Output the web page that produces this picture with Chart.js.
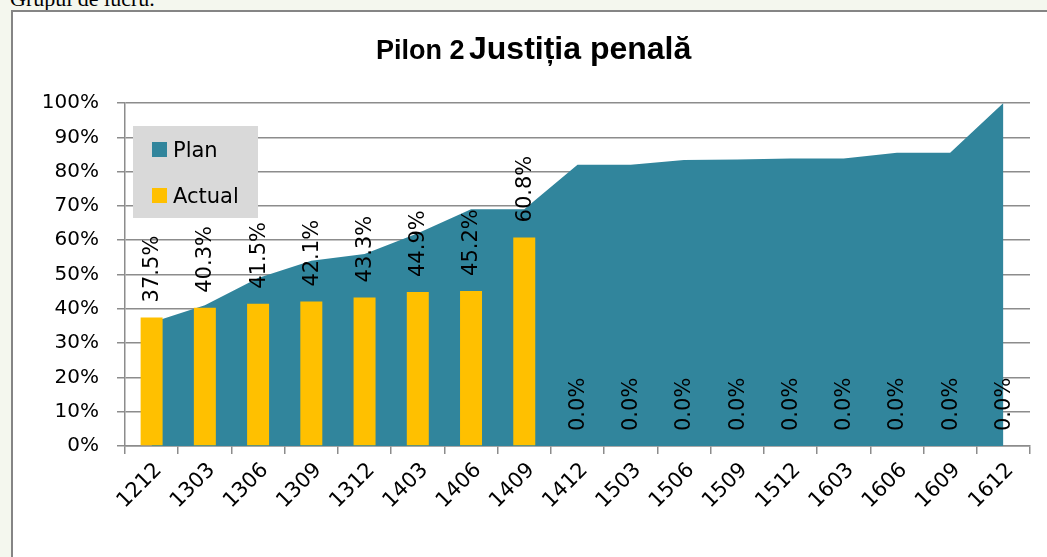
<!DOCTYPE html>
<html>
<head>
<meta charset="utf-8">
<script src="https://cdn.jsdelivr.net/npm/chart.js@4.4.0/dist/chart.umd.min.js"></script>
<style>
html, body { margin: 0; padding: 0; background: #f4f7ee; overflow: hidden; }
#top { position: absolute; left: 10px; top: -12px; font: 22px "Liberation Serif"; line-height: 22px; color: #000; white-space: nowrap; }
#frame { position: absolute; left: 11px; top: 10px; width: 1100px; height: 600px; border: 2px solid #858585; background: #fff; }
#wrap { position: absolute; left: 0; top: 0; width: 1047px; height: 557px; }
</style>
</head>
<body>
<div id="top">Grupul de lucru.</div>
<div id="frame"></div>
<div id="wrap"><canvas id="chart" width="1047" height="557"></canvas></div>
<script>
const periods = ['1212', '1303', '1306', '1309', '1312', '1403', '1406', '1409', '1412',
  '1503', '1506', '1509', '1512', '1603', '1606', '1609', '1612'];
const planValues = [36, 41, 49, 54, 56, 62, 69, 69, 82, 82, 83.4, 83.5, 83.8, 83.8, 85.5, 85.5, 100];
const actualValues = [37.5, 40.3, 41.5, 42.1, 43.3, 44.9, 45.2, 60.8, 0, 0, 0, 0, 0, 0, 0, 0, 0];
const yTicks = [0, 10, 20, 30, 40, 50, 60, 70, 80, 90, 100];

const gridGray = '#8c8c8c';

// rotated value labels above the bars
const barLabels = {
  id: 'barLabels',
  afterDatasetsDraw(chart) {
    const ctx = chart.ctx;
    const meta = chart.getDatasetMeta(1);
    ctx.save();
    ctx.font = '21px "DejaVu Sans"';
    ctx.fillStyle = '#000';
    ctx.textAlign = 'left';
    ctx.textBaseline = 'middle';
    meta.data.forEach((bar, i) => {
      ctx.save();
      ctx.translate(bar.x + 1, bar.y - 15);
      ctx.rotate(-Math.PI / 2);
      ctx.fillText(actualValues[i].toFixed(1) + '%', 0, 0);
      ctx.restore();
    });
    ctx.restore();
  }
};

// legend box inside the plot, plus the two-size title
const extras = {
  id: 'extras',
  afterDraw(chart) {
    const ctx = chart.ctx;
    ctx.save();
    ctx.fillStyle = '#d9d9d9';
    ctx.fillRect(133, 126, 125, 92);
    ctx.font = '21px "DejaVu Sans"';
    ctx.textBaseline = 'alphabetic';
    chart.data.datasets.forEach((ds, i) => {
      const y = 142 + i * 46;
      ctx.fillStyle = ds.backgroundColor;
      ctx.fillRect(152, y, 15, 15);
      ctx.fillStyle = '#000';
      ctx.fillText(ds.label, 173, y + 15);
    });

    ctx.font = 'bold 27px "Liberation Sans"';
    ctx.fillText('Pilon 2', 376, 59);
    ctx.font = 'bold 32px "Liberation Sans"';
    ctx.fillText('Justiția penală', 469, 59);
    ctx.restore();
  }
};

new Chart(document.getElementById('chart'), {
  type: 'bar',
  data: {
    labels: periods,
    datasets: [{
      type: 'line',
      label: 'Plan',
      data: planValues,
      fill: 'origin',
      backgroundColor: '#31859c',
      borderColor: '#31859c',
      borderWidth: 0,
      pointRadius: 0,
      tension: 0,
      order: 1
    }, {
      type: 'bar',
      label: 'Actual',
      data: actualValues,
      backgroundColor: '#ffc000',
      barPercentage: 0.413,
      categoryPercentage: 1,
      order: 0
    }]
  },
  options: {
    responsive: false,
    devicePixelRatio: 1,
    animation: false,
    layout: { padding: { top: 103, right: 17, left: 0, bottom: 0 } },
    plugins: { legend: { display: false }, tooltip: { enabled: false } },
    scales: {
      x: {
        offset: true,
        grid: { drawOnChartArea: false, tickLength: 8, color: gridGray, lineWidth: 1.5 },
        border: { color: gridGray, width: 1.5 },
        ticks: { minRotation: 45, maxRotation: 45, autoSkip: false, color: '#000',
          font: { family: 'DejaVu Sans', size: 21 }, padding: 4, labelOffset: 7 },
        afterFit: s => { s.height = 111; }
      },
      y: {
        min: 0,
        max: 100,
        afterBuildTicks: s => { s.ticks = yTicks.map(v => ({ value: v })); },
        grid: { tickLength: 8, color: gridGray, lineWidth: 1.5 },
        border: { color: gridGray, width: 1.5 },
        ticks: { color: '#000', font: { family: 'DejaVu Sans', size: 20 }, padding: 18, callback: v => v + '%' },
        afterFit: s => { s.width = 125; }
      }
    }
  },
  plugins: [barLabels, extras]
});
</script>
</body>
</html>
